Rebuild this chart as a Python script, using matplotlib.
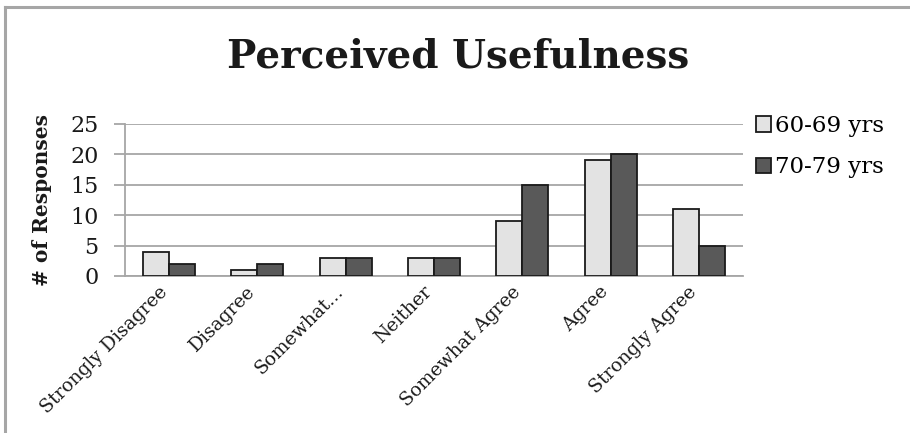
import matplotlib.pyplot as plt
import numpy as np
from matplotlib.lines import Line2D
from matplotlib.transforms import ScaledTranslation

categories = ["Strongly Disagree", "Disagree", "Somewhat...", "Neither",
              "Somewhat Agree", "Agree", "Strongly Agree"]
series_names = ["60-69 yrs", "70-79 yrs"]
age_60_69 = [4, 1, 3, 3, 9, 19, 11]
age_70_79 = [2, 2, 3, 3, 15, 20, 5]
y_ticks = [0, 5, 10, 15, 20, 25]

W, H = 910, 433
fig = plt.figure(figsize=(W / 100, H / 100), dpi=100)
plt.rcParams['font.family'] = ['DejaVu Serif']

# outer frame (only top and left edges visible)
fig.add_artist(Line2D([5 / W, 5 / W], [0, 1 - 7 / H], color="#a6a6a6", lw=2.2))
fig.add_artist(Line2D([5 / W, 1], [1 - 7 / H, 1 - 7 / H], color="#a6a6a6", lw=2.2))

ax = fig.add_axes([125 / W, 1 - 276 / H, (743 - 125) / W, (276 - 124) / H])

x = np.arange(len(categories))
bw = 0.295
ax.bar(x - bw / 2, age_60_69, bw, color="#e3e3e3", edgecolor="#1a1a1a",
       linewidth=1.3, label=series_names[0], zorder=3)
ax.bar(x + bw / 2, age_70_79, bw, color="#595959", edgecolor="#1a1a1a",
       linewidth=1.3, label=series_names[1], zorder=3)

ax.set_xlim(-0.5, len(categories) - 0.5)
ax.set_ylim(0, 25)
ax.set_yticks(y_ticks)
ax.yaxis.grid(True, color="#a6a6a6", lw=1.3, zorder=0)
ax.set_axisbelow(True)
for s in ["top", "right"]:
    ax.spines[s].set_visible(False)
ax.spines["left"].set_color("#a6a6a6")
ax.spines["bottom"].set_color("#a6a6a6")
ax.spines["left"].set_linewidth(1.3)
ax.spines["bottom"].set_linewidth(1.3)
ax.tick_params(axis="y", length=8, width=1.3, color="#a6a6a6",
               labelsize=16, pad=11, labelcolor="#1a1a1a")
ax.tick_params(axis="x", length=0, pad=5)
ax.set_xticks(x)
ax.set_xticklabels(categories, rotation=45, ha="right", rotation_mode="anchor",
                   fontsize=13.5, color="#1a1a1a")
shift = ScaledTranslation(-8 / 72, 0, fig.dpi_scale_trans)
for lbl in ax.get_xticklabels():
    lbl.set_transform(lbl.get_transform() + shift)
ax.set_ylabel("# of Responses", fontsize=14.5, fontweight="bold",
              color="#1a1a1a", labelpad=13)

fig.text(458 / W, 1 - 57 / H, "Perceived Usefulness", ha="center",
         va="center", fontsize=28, fontweight="bold", color="#1a1a1a")

ax.legend(loc="upper left", bbox_to_anchor=(756 / W, 1 - 115 / H),
          bbox_transform=fig.transFigure, frameon=False, fontsize=16.5,
          handlelength=0.65, handleheight=0.65, handletextpad=0.2,
          labelspacing=0.85, borderaxespad=0, borderpad=0)

fig.savefig("out.png", dpi=100)
